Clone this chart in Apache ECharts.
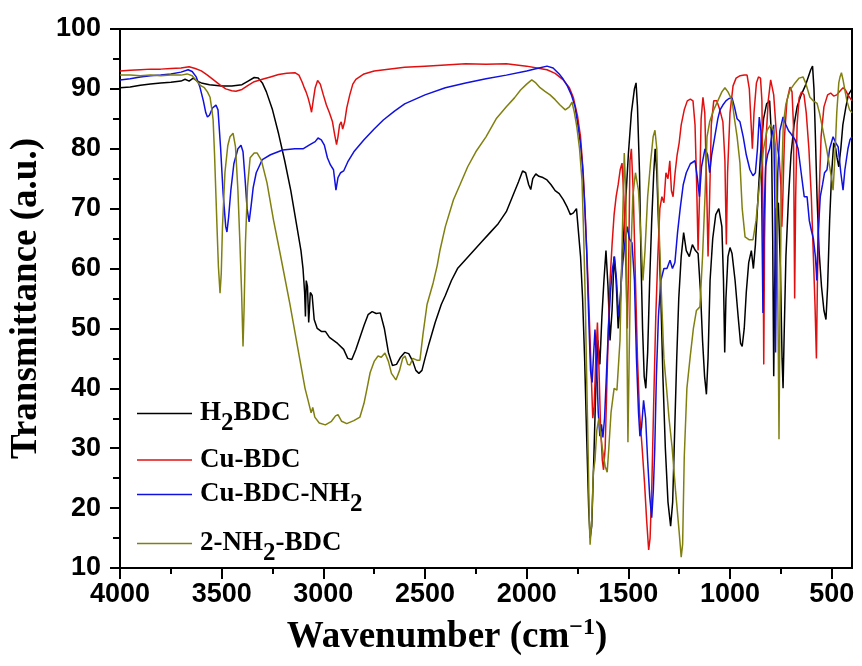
<!DOCTYPE html>
<html>
<head>
<meta charset="utf-8">
<script src="https://cdn.jsdelivr.net/npm/echarts@6/dist/echarts.min.js"></script>
<style>html,body{margin:0;padding:0;background:#fff}#c{width:862px;height:666px}</style>
</head>
<body>
<div id="c"></div>
<script>
// ---------- data: [wavenumber (cm-1), transmittance (a.u.)] ----------
var seriesNames = ['H2BDC', 'Cu-BDC', 'Cu-BDC-NH2', '2-NH2-BDC'];
var xMajorTicks = [4000, 3500, 3000, 2500, 2000, 1500, 1000, 500];
var xMinorTicks = [3750, 3250, 2750, 2250, 1750, 1250, 750];

var h2bdc = [[4000,90.2],[3950,90.3],[3900,90.6],[3850,90.8],[3800,91.0],[3750,91.1],[3700,91.3],[3680,91.6],[3660,91.3],[3640,91.8],[3620,91.3],[3600,91.0],[3560,90.7],[3500,90.5],[3450,90.5],[3400,90.7],[3370,91.3],[3340,91.9],[3320,91.8],[3300,91.0],[3280,89.5],[3250,86.5],[3220,82.5],[3190,78],[3160,73],[3130,67],[3110,63],[3100,60],[3092,56],[3088,52],[3084,58],[3078,57],[3072,51],[3064,56],[3055,55.5],[3045,51.5],[3030,50],[3010,49.5],[2990,49.5],[2970,48.5],[2950,48],[2930,47.5],[2900,46.5],[2880,45],[2860,44.8],[2840,46.5],[2820,48.5],[2800,50.5],[2780,52.3],[2760,52.8],[2740,52.5],[2720,52.6],[2700,50],[2680,46],[2660,43.8],[2640,44],[2620,45.2],[2600,46],[2580,45.8],[2560,44.5],[2545,43],[2530,42.5],[2515,43],[2500,45],[2480,47.5],[2450,51],[2420,54],[2400,55.5],[2370,58],[2340,60],[2300,61.5],[2260,63],[2220,64.5],[2180,66],[2140,67.5],[2100,69.5],[2070,72],[2040,74.5],[2020,76.3],[2005,76],[1990,74],[1980,73.2],[1970,75],[1955,75.8],[1940,75.4],[1920,75.2],[1900,74.8],[1880,74],[1860,73],[1840,72.5],[1820,71.5],[1800,70.2],[1785,69],[1770,69.3],[1755,70],[1745,66],[1735,62],[1725,55],[1715,45],[1705,32],[1695,20],[1688,15],[1680,17],[1670,28],[1660,40],[1650,48],[1640,44],[1630,52],[1620,58],[1610,63],[1600,57],[1590,48],[1580,53],[1570,62],[1560,58],[1550,50],[1540,54],[1530,62],[1515,70],[1500,79],[1485,86],[1470,90],[1462,91],[1455,87],[1445,76],[1438,62],[1430,50],[1422,42],[1414,40],[1405,46],[1395,58],[1385,68],[1375,76],[1368,80],[1360,76],[1350,66],[1340,55],[1330,42],[1318,30],[1305,21],[1292,17],[1282,21],[1272,33],[1262,45],[1252,55],[1240,62],[1228,66],[1215,63],[1200,62],[1185,64],[1170,63],[1157,62.5],[1145,56],[1135,48],[1125,42],[1116,39],[1108,45],[1098,58],[1085,65],[1070,69],[1055,70],[1040,67],[1032,58],[1026,46],[1020,55],[1010,62],[1000,63.5],[990,62.5],[975,58],[960,52],[948,47.5],[940,47],[930,50],[920,56],[908,61],[895,63],[885,60],[875,64],[862,72],[850,79],[835,85],[820,87.5],[805,88],[796,82],[790,65],[785,42],[780,58],[772,70],[762,71],[752,60],[744,45],[739,40],[733,50],[725,62],[712,72],[700,79],[685,84],[670,87],[650,89],[630,90.5],[615,92],[603,93.2],[594,93.8],[587,90],[580,82],[572,72],[562,63],[550,57],[538,53],[528,51.5],[520,57],[510,68],[500,76],[490,81],[480,80],[474,78.6],[465,77],[455,80],[445,84],[430,87],[418,89],[400,90]];

var cubdc = [[4000,93.0],[3950,93.1],[3900,93.2],[3850,93.3],[3800,93.3],[3750,93.4],[3700,93.5],[3660,93.7],[3630,93.4],[3600,93.0],[3570,92.3],[3540,91.5],[3510,90.7],[3480,90.0],[3450,89.7],[3430,89.6],[3400,89.9],[3370,90.6],[3340,91.2],[3300,91.6],[3260,92.0],[3220,92.4],[3180,92.6],[3140,92.7],[3120,92.3],[3105,91.2],[3095,90.3],[3085,89.5],[3075,88.5],[3065,87.2],[3058,86.1],[3050,88],[3040,90.2],[3028,91.4],[3015,90.8],[3000,89],[2985,87.3],[2970,86],[2955,84.5],[2945,82.5],[2935,80.7],[2928,82],[2920,84],[2912,84.5],[2905,83.3],[2895,84.5],[2885,86.8],[2870,89],[2855,90.8],[2840,91.6],[2800,92.5],[2750,93],[2700,93.2],[2600,93.6],[2500,93.8],[2400,94.0],[2300,94.2],[2200,94.1],[2100,94.2],[2050,94.0],[2000,93.8],[1950,93.5],[1900,93.2],[1860,92.6],[1820,91.5],[1790,90.2],[1770,88.5],[1750,85.5],[1735,82],[1722,76],[1712,69],[1702,61],[1692,52],[1683,43],[1675,35],[1668,37],[1660,45],[1652,51],[1645,44],[1637,34],[1628,28],[1622,26.4],[1614,30],[1606,40],[1598,50],[1590,58],[1580,64],[1570,69],[1560,72],[1550,74],[1540,76.5],[1531,77.6],[1522,72],[1512,60],[1505,50],[1498,62],[1492,78],[1485,80],[1475,72],[1465,58],[1455,45],[1445,36],[1432,30],[1420,24],[1410,18],[1400,13],[1393,15],[1385,23],[1375,38],[1365,52],[1355,62],[1345,70],[1335,72],[1325,71],[1315,76],[1305,75],[1296,78],[1288,73],[1280,72],[1270,76],[1260,79],[1250,81],[1240,84],[1225,86.5],[1210,88],[1195,88.3],[1182,88],[1172,84],[1164,74],[1157,63],[1150,72],[1142,85],[1133,88.6],[1124,86],[1115,74],[1108,62],[1100,72],[1092,84],[1080,88],[1065,88],[1050,86.5],[1035,84.5],[1025,78],[1018,64],[1012,76],[1000,86],[985,90.5],[970,91.8],[950,92.2],[930,92.3],[916,92.3],[905,90],[896,84],[890,80],[882,86],[870,91],[860,92],[850,91.8],[843,88],[838,70],[834,44],[830,65],[822,82],[812,88],[800,91.5],[793,91.8],[785,89],[775,84],[766,80],[758,78.5],[750,74],[745,67],[740,72],[732,82],[720,88],[705,90.3],[695,89.5],[688,84],[682,55],[677,72],[670,84],[660,88.5],[648,89.5],[636,89],[625,86],[612,80],[600,72],[590,62],[582,54],[575,45],[570,58],[562,72],[552,82],[538,87],[520,89],[505,89.3],[490,88.8],[475,89],[460,89.6],[444,90.2],[432,89.8],[420,89],[410,88.5],[400,88]];

var cubdcnh2 = [[4000,91.5],[3950,91.7],[3900,92],[3850,92.2],[3800,92.3],[3750,92.5],[3700,92.8],[3665,93.2],[3645,92.9],[3625,92],[3607,90.3],[3590,88],[3578,86],[3570,85.3],[3560,85.6],[3545,86.8],[3528,87.3],[3518,86.5],[3505,80],[3493,72.6],[3480,67],[3474,66.1],[3466,68.5],[3455,73],[3440,77.5],[3420,80],[3405,80.6],[3395,79.5],[3385,75],[3375,70],[3365,67.8],[3355,70.5],[3345,73.5],[3330,76],[3300,78.2],[3260,79],[3200,79.8],[3140,80],[3100,80],[3070,80.6],[3040,81.2],[3026,81.8],[3010,81.5],[2995,80.6],[2980,78.5],[2965,77.3],[2950,76.5],[2938,73.1],[2928,75.2],[2915,76],[2900,76.3],[2880,77.8],[2850,79.5],[2800,81.5],[2750,83.3],[2705,84.8],[2650,86.3],[2600,87.5],[2500,89],[2400,90.2],[2300,91],[2200,91.7],[2100,92.3],[2000,93],[1950,93.4],[1900,93.8],[1870,93.5],[1840,92.5],[1820,91.6],[1800,90.5],[1780,89],[1762,87],[1748,84],[1736,81],[1725,77],[1715,71],[1705,63],[1695,52],[1686,43],[1678,41],[1672,45],[1664,49.8],[1656,44],[1648,36],[1640,32],[1632,34],[1625,31.8],[1617,35],[1608,42],[1598,50],[1588,56],[1578,60],[1568,62],[1558,58],[1548,52],[1540,55],[1530,60],[1518,64],[1505,67],[1495,65],[1482,64.3],[1470,58],[1460,45],[1450,36],[1443,32],[1435,33.5],[1425,38],[1415,35],[1405,28],[1395,22],[1385,18.4],[1377,23],[1370,30],[1362,42],[1352,52],[1340,58],[1325,60],[1310,60],[1295,61.4],[1283,60],[1271,61],[1258,66],[1245,70],[1230,74],[1215,76],[1195,77.5],[1172,78],[1160,75],[1150,72],[1140,77],[1123,80],[1110,79],[1100,76],[1090,79],[1075,82],[1060,85],[1049,86.5],[1035,87.3],[1020,88],[1005,88.4],[990,88.5],[978,87],[965,85],[951,84.5],[935,82],[920,79],[902,76.5],[887,75.5],[875,76],[865,80],[856,85.3],[848,83],[842,65],[838,52.6],[833,68],[825,77],[815,79],[805,80],[795,82],[785,84],[779,70],[776,46],[772,60],[765,76],[755,83],[739,85.3],[725,84],[712,83],[700,82.5],[680,81.5],[665,80],[650,76],[635,72],[621,72],[610,68],[600,66.4],[590,65],[580,62],[573,58],[566,66],[556,72],[545,74],[535,76],[523,76.5],[510,80],[493,82],[480,81],[468,80.3],[455,76],[444,73.1],[435,76.5],[420,80],[410,81.5],[400,82]];

var nh2bdc = [[4000,92.3],[3950,92.3],[3900,92.2],[3850,92.3],[3800,92.2],[3750,92.3],[3700,92.3],[3670,92.5],[3645,92.2],[3625,91.4],[3605,90.6],[3585,90.2],[3570,89.5],[3557,88.6],[3548,86.5],[3542,84.8],[3535,79],[3528,72],[3523,67],[3516,60.3],[3508,55.9],[3502,59.2],[3496,67],[3484,76],[3470,80.5],[3459,82],[3444,82.6],[3432,80.3],[3420,73],[3410,64],[3402,56],[3395,47],[3390,53],[3383,64.3],[3373,73.6],[3360,78.5],[3340,79.3],[3326,79.3],[3305,78.1],[3277,74.3],[3245,68.1],[3213,62.6],[3165,54.2],[3115,44.7],[3090,40],[3075,38],[3060,35.9],[3052,36.8],[3042,35.2],[3020,34.2],[2990,33.9],[2960,34.5],[2940,35.4],[2928,35.6],[2910,34.5],[2885,34.1],[2850,34.6],[2820,35.2],[2800,37.5],[2785,40],[2770,42.6],[2750,44.5],[2731,45.4],[2715,45.2],[2697,45.9],[2680,44.5],[2665,42.5],[2643,41.4],[2625,43],[2610,45],[2598,45.4],[2585,44],[2574,43.9],[2560,45],[2540,44.7],[2525,44.7],[2510,49],[2490,54],[2460,57.6],[2440,60.5],[2426,63.1],[2400,67],[2360,71.5],[2328,74],[2290,77],[2250,79.5],[2200,82],[2150,85],[2100,87],[2060,88.5],[2030,89.8],[2000,90.8],[1975,91.5],[1955,91],[1934,90.2],[1910,89.6],[1885,89],[1860,88.2],[1836,87.3],[1810,86.5],[1790,87],[1777,87.8],[1765,86],[1753,83.6],[1740,80],[1728,74.8],[1720,66],[1712,55],[1705,42],[1698,30],[1692,18],[1688,13.9],[1680,18],[1672,26],[1664,28],[1655,33],[1645,35],[1639,35.2],[1628,30],[1614,27],[1604,26],[1596,30],[1585,36],[1570,40],[1556,39.7],[1541,48],[1530,65],[1520,79.3],[1512,72],[1506,45],[1502,31],[1496,45],[1488,62],[1478,72],[1465,76],[1450,73],[1438,65],[1428,58],[1418,63],[1405,72],[1390,78],[1378,82],[1369,83.1],[1360,80],[1352,70],[1340,58],[1325,45],[1312,40],[1300,35],[1285,30.2],[1268,23],[1250,16],[1240,11.8],[1233,14],[1225,28.5],[1212,40],[1196,45.2],[1180,50],[1165,53],[1148,53.6],[1135,62],[1123,72],[1113,82],[1100,84.5],[1080,86.5],[1060,88],[1040,89.5],[1025,90.2],[1010,89.5],[990,88.1],[978,85],[965,82],[951,77.6],[940,70],[926,65.3],[905,64.8],[887,64.8],[872,68],[855,74],[835,80],[818,83.1],[800,84],[785,83],[775,80],[768,65],[762,45],[759,31.5],[755,50],[748,72],[738,84],[725,87.5],[705,89.8],[680,91],[660,91.8],[641,92],[628,91],[607,88.6],[590,88],[572,87.6],[560,86],[543,83.1],[525,80],[510,77],[500,75],[493,73.1],[485,78],[475,86],[465,91],[459,92],[452,92.7],[444,91.5],[435,89.8],[425,88],[412,86.5],[400,86]];

var seriesData = [h2bdc, cubdc, cubdcnh2, nh2bdc];
var seriesColors = ['#000000', '#e01010', '#1010e0', '#808010'];
var legendLabels = {'H2BDC': 'H{s|2}BDC', 'Cu-BDC': 'Cu-BDC', 'Cu-BDC-NH2': 'Cu-BDC-NH{s|2}', '2-NH2-BDC': '2-NH{s|2}-BDC'};
var legendCenters = [413, 460, 494, 543];

var serif = '"Liberation Serif", "Times New Roman", serif';
var sans = '"Liberation Sans", Arial, sans-serif';

var chart = echarts.init(document.getElementById('c'), null, {renderer: 'canvas'});

var legends = seriesNames.map(function (n, i) {
  var hasSub = legendLabels[n].indexOf('{s|') >= 0;
  return {
    data: [n], left: 137, top: legendCenters[i] - (hasSub ? 22 : 14), padding: 0,
    icon: 'rect', itemWidth: 55, itemHeight: 1.6, itemGap: 0,
    formatter: function (name) { return legendLabels[name]; },
    textStyle: {
      color: '#000', fontFamily: serif, fontWeight: 'bold', fontSize: 27, lineHeight: 28,
      padding: [0, 0, 0, 3],
      rich: { s: { fontFamily: serif, fontWeight: 'bold', fontSize: 25, lineHeight: 24, padding: [20, 0, 0, 0], color: '#000' } }
    }
  };
});

var option = {
  animation: false,
  backgroundColor: '#fff',
  grid: { left: 120, right: 10, top: 29, bottom: 98, show: true, borderColor: '#000', borderWidth: 2, containLabel: false, outerBoundsMode: 'none' },
  legend: legends,
  xAxis: [{
    type: 'value', min: 400, max: 4000, inverse: true,
    name: 'Wavenumber (cm{sup|\u22121})', nameLocation: 'middle', nameGap: 48,
    nameTextStyle: { color: '#000', fontFamily: serif, fontWeight: 'bold', fontSize: 37, padding: [0, 78, 0, 0],
      rich: { sup: { fontFamily: serif, fontWeight: 'bold', fontSize: 24, padding: [0, 0, 18, 0], color: '#000' } } },
    axisLine: { show: true, lineStyle: { color: '#000', width: 2 } },
    axisTick: { show: true, inside: false, length: 11, customValues: xMajorTicks, lineStyle: { color: '#000', width: 2 } },
    axisLabel: { show: true, customValues: xMajorTicks, margin: 13, color: '#000', fontFamily: sans, fontWeight: 'bold', fontSize: 27,
      formatter: function (v) { return String(v); } },
    splitLine: { show: false }
  }, {
    type: 'value', min: 400, max: 4000, inverse: true, position: 'bottom',
    axisLine: { show: false },
    axisTick: { show: true, length: 6, customValues: xMinorTicks, lineStyle: { color: '#000', width: 2 } },
    axisLabel: { show: false },
    splitLine: { show: false }
  }],
  yAxis: {
    type: 'value', min: 10, max: 100, interval: 10,
    name: 'Transmittance (a.u.)', nameLocation: 'middle', nameGap: 74,
    nameTextStyle: { color: '#000', fontFamily: serif, fontWeight: 'bold', fontSize: 37 },
    axisLine: { show: true, lineStyle: { color: '#000', width: 2 } },
    axisTick: { show: true, length: 10, lineStyle: { color: '#000', width: 2 } },
    minorTick: { show: true, splitNumber: 2, length: 7, lineStyle: { color: '#000', width: 2 } },
    axisLabel: { margin: 19, color: '#000', fontFamily: sans, fontWeight: 'bold', fontSize: 27 },
    splitLine: { show: false }
  },
  series: seriesNames.map(function (n, i) {
    return {
      name: n, type: 'line', xAxisIndex: 0, data: seriesData[i], showSymbol: false, symbol: 'none',
      smooth: false, lineStyle: { color: seriesColors[i], width: 1.5 }, itemStyle: { color: seriesColors[i] },
      clip: true
    };
  })
};
chart.setOption(option);
</script>
</body>
</html>
